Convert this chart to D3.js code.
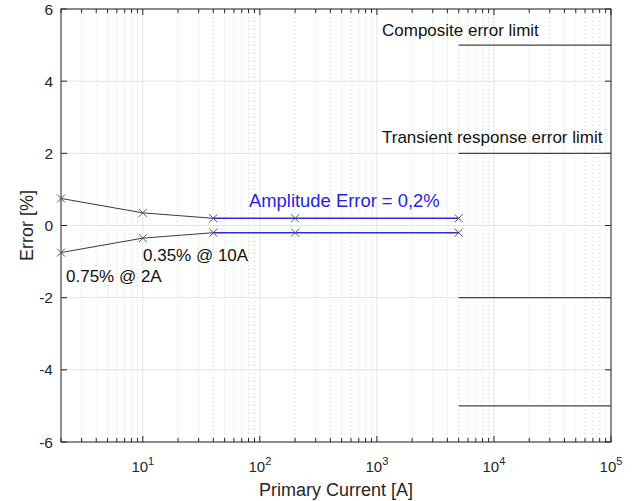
<!DOCTYPE html>
<html>
<head>
<meta charset="utf-8">
<script src="https://cdn.jsdelivr.net/npm/d3@7"></script>
<style>
  body { margin: 0; background: #fff; }
  text { font-family: "Liberation Sans", Arial, sans-serif; fill: #262626; }
</style>
</head>
<body>
<svg id="chart" width="632" height="501"></svg>
<script>
// measured points (current in A, error in %)
const currents = [2, 10, 40, 200, 5000];
const upperErr = [0.75, 0.35, 0.2, 0.2, 0.2];
const lowerErr = [-0.75, -0.35, -0.2, -0.2, -0.2];
// limit lines start at 5 kA and run to the edge
const limitFrom = 5000, limitTo = 1e5;
const limitLevels = [5, 2, -2, -5];
const yTicks = [-6, -4, -2, 0, 2, 4, 6];
const xDecades = [1, 2, 3, 4, 5];

const pLeft = 61, pRight = 611, pTop = 9, pBottom = 442;

const svg = d3.select('#chart');

const x = d3.scaleLog().domain([2, 1e5]).range([pLeft, pRight]);
const y = d3.scaleLinear().domain([-6, 6]).range([pBottom, pTop]);

const allX = x.ticks().filter(d => d >= 2 && d <= 1e5);
const majorX = xDecades.map(p => Math.pow(10, p));
const minorX = allX.filter(d => majorX.indexOf(d) < 0);

const grid = svg.append('g');
// minor vertical grid, dotted
grid.selectAll(null).data(minorX).enter().append('line')
  .attr('x1', d => x(d)).attr('x2', d => x(d))
  .attr('y1', pTop).attr('y2', pBottom)
  .attr('stroke', '#cfcfcf').attr('stroke-width', 1)
  .attr('stroke-dasharray', '1,3');
// major grid
grid.selectAll(null).data(majorX).enter().append('line')
  .attr('x1', d => x(d)).attr('x2', d => x(d))
  .attr('y1', pTop).attr('y2', pBottom)
  .attr('stroke', '#e3e3e3');
grid.selectAll(null).data(yTicks).enter().append('line')
  .attr('x1', pLeft).attr('x2', pRight)
  .attr('y1', d => y(d)).attr('y2', d => y(d))
  .attr('stroke', '#e3e3e3');

// axes box and inward ticks
const ax = svg.append('g').attr('stroke', '#262626').attr('stroke-width', 1);
ax.append('rect').attr('x', pLeft).attr('y', pTop)
  .attr('width', pRight - pLeft).attr('height', pBottom - pTop)
  .attr('fill', 'none');
[[pBottom, -1], [pTop, 1]].forEach(([yy, dir]) => {
  ax.selectAll(null).data(majorX).enter().append('line')
    .attr('x1', d => x(d)).attr('x2', d => x(d))
    .attr('y1', yy).attr('y2', yy + dir * 6);
  ax.selectAll(null).data(minorX).enter().append('line')
    .attr('x1', d => x(d)).attr('x2', d => x(d))
    .attr('y1', yy).attr('y2', yy + dir * 4);
});
[[pLeft, 1], [pRight, -1]].forEach(([xx, dir]) => {
  ax.selectAll(null).data(yTicks).enter().append('line')
    .attr('x1', xx).attr('x2', xx + dir * 6)
    .attr('y1', d => y(d)).attr('y2', d => y(d));
});

// tick labels
svg.selectAll(null).data(yTicks).enter().append('text')
  .attr('x', pLeft - 8).attr('y', d => y(d) + 5.5)
  .attr('text-anchor', 'end').attr('font-size', 15.5)
  .text(d => d);

const xt = svg.selectAll(null).data(xDecades).enter().append('text')
  .attr('x', d => x(Math.pow(10, d))).attr('y', 472)
  .attr('text-anchor', 'middle').attr('font-size', 15);
xt.append('tspan').text('10');
xt.append('tspan').attr('dy', -7).attr('font-size', 11).text(d => d);

svg.append('text').attr('x', (pLeft + pRight) / 2).attr('y', 496)
  .attr('text-anchor', 'middle').attr('font-size', 18)
  .text('Primary Current [A]');
svg.append('text')
  .attr('transform', 'translate(33,' + (pTop + pBottom) / 2 + ') rotate(-90)')
  .attr('text-anchor', 'middle').attr('font-size', 18)
  .text('Error [%]');

// limit lines
svg.selectAll(null).data(limitLevels).enter().append('line')
  .attr('x1', x(limitFrom)).attr('x2', x(limitTo))
  .attr('y1', d => y(d)).attr('y2', d => y(d))
  .attr('stroke', '#444').attr('stroke-width', 1.3);

// error curves: black up to 40 A, blue beyond
const line = d3.line().x(d => x(d[0])).y(d => y(d[1]));
[upperErr, lowerErr].forEach(errs => {
  const pts = currents.map((c, i) => [c, errs[i]]);
  const split = currents.indexOf(40);
  svg.append('path').attr('d', line(pts.slice(0, split + 1)))
    .attr('fill', 'none').attr('stroke', '#222').attr('stroke-width', 0.9);
  svg.append('path').attr('d', line(pts.slice(split)))
    .attr('fill', 'none').attr('stroke', '#2a2ae0').attr('stroke-width', 1.6);
  const m = svg.append('g').attr('stroke', '#555').attr('stroke-width', 1);
  pts.forEach(p => {
    const cx = x(p[0]), cy = y(p[1]), r = 4;
    m.append('line').attr('x1', cx - r).attr('x2', cx + r).attr('y1', cy - r).attr('y2', cy + r);
    m.append('line').attr('x1', cx - r).attr('x2', cx + r).attr('y1', cy + r).attr('y2', cy - r);
  });
});

// annotations
svg.append('text').attr('x', 382).attr('y', 36).attr('font-size', 17)
  .style('fill', '#111').text('Composite error limit');
svg.append('text').attr('x', 382).attr('y', 143).attr('font-size', 17)
  .style('fill', '#111').text('Transient response error limit');
svg.append('text').attr('x', 249).attr('y', 207).attr('font-size', 18.4)
  .style('fill', '#1f1fe6').text('Amplitude Error = 0,2%');
svg.append('text').attr('x', 143).attr('y', 261).attr('font-size', 17)
  .style('fill', '#111').text('0.35% @ 10A');
svg.append('text').attr('x', 66).attr('y', 282).attr('font-size', 17)
  .style('fill', '#111').text('0.75% @ 2A');
</script>
</body>
</html>
